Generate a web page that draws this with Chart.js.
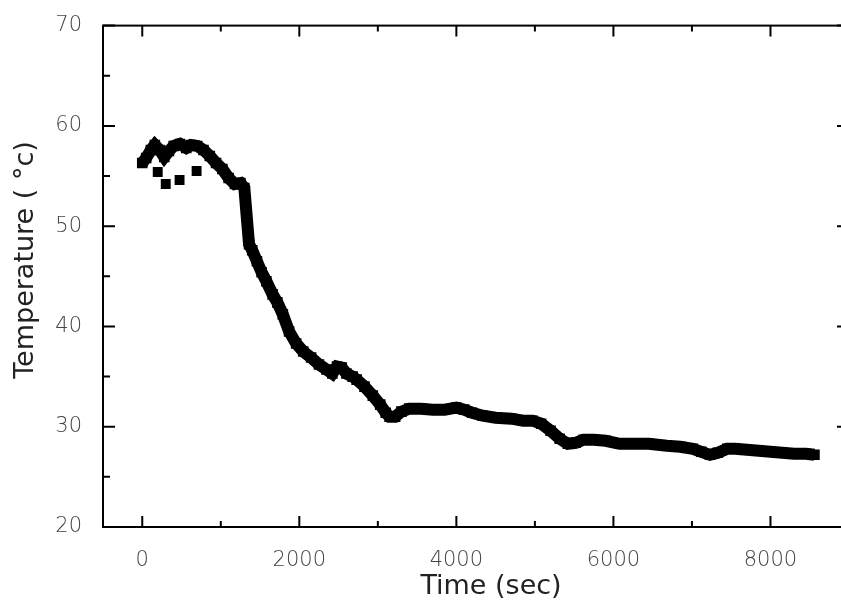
<!DOCTYPE html>
<html>
<head>
<meta charset="utf-8">
<script src="https://cdn.jsdelivr.net/npm/chart.js@4.4.1/dist/chart.umd.min.js"></script>
<style>
  html, body { margin: 0; padding: 0; background: #fff; overflow: hidden; }
  #wrap { width: 841px; height: 602px; overflow: hidden; }
</style>
</head>
<body>
<div id="wrap"><canvas id="chart" width="860" height="602"></canvas></div>
<script>
// cooling run: temperature logged against elapsed time
const timeSec = [0, 50, 110, 160, 220, 280, 340, 400, 480, 560, 620, 700, 780, 860, 940,
  1020, 1100, 1180, 1250, 1300, 1330, 1360, 1400, 1460, 1520, 1580, 1660, 1720, 1790, 1870,
  1960, 2050, 2150, 2250, 2346, 2420, 2480, 2540, 2600, 2680, 2730, 2830, 2936, 3030, 3100,
  3150, 3220, 3300, 3400, 3550, 3700, 3850, 4000, 4100, 4200, 4335, 4500, 4700, 4850, 4971,
  5080, 5200, 5316, 5420, 5520, 5620, 5750, 5900, 6080, 6250, 6450, 6680, 6850, 7012, 7120,
  7230, 7330, 7450, 7550, 7700, 7850, 8000, 8150, 8300, 8450, 8560];
const tempC = [56.3, 56.8, 57.6, 58.1, 57.6, 56.9, 57.5, 58.0, 58.2, 57.8, 58.1, 58.0, 57.6, 57.0, 56.3,
  55.7, 54.8, 54.2, 54.3, 53.8, 51.0, 48.2, 47.6, 46.5, 45.4, 44.5, 43.2, 42.4, 41.2, 39.5,
  38.3, 37.5, 36.9, 36.2, 35.7, 35.3, 36.0, 35.9, 35.3, 35.0, 34.7, 34.0, 33.1, 32.2, 31.4,
  31.0, 31.0, 31.5, 31.8, 31.8, 31.7, 31.7, 31.9, 31.7, 31.4, 31.1, 30.9, 30.8, 30.6, 30.6,
  30.3, 29.6, 28.8, 28.3, 28.4, 28.7, 28.7, 28.6, 28.3, 28.3, 28.3, 28.1, 28.0, 27.8, 27.5,
  27.2, 27.4, 27.8, 27.8, 27.7, 27.6, 27.5, 27.4, 27.3, 27.3, 27.2];

// scattered low readings near the start
const strayTime = [197, 299, 475, 692];
const strayTemp = [55.4, 54.2, 54.6, 55.5];

const xMajor = [0, 2000, 4000, 6000, 8000];
const xMinor = [1000, 3000, 5000, 7000];
const yMajor = [20, 30, 40, 50, 60, 70];
const yMinor = [25, 35, 45, 55, 65];

const xTitle = 'Time (sec)';
const yTitle = 'Temperature ( \u00b0c)';

const labelFont = { family: 'DejaVu Sans', size: 21, weight: '200' };

// frame with inward ticks on all four sides
const framePlugin = {
  id: 'frame',
  afterDatasetsDraw(chart) {
    const { ctx, chartArea: a, scales: { x, y } } = chart;
    ctx.save();
    ctx.strokeStyle = '#000';
    ctx.lineWidth = 2;
    ctx.strokeRect(a.left, a.top, a.right - a.left, a.bottom - a.top);
    const xtick = (vals, len) => {
      vals.forEach(v => {
        const px = x.getPixelForValue(v);
        ctx.beginPath();
        ctx.moveTo(px, a.bottom); ctx.lineTo(px, a.bottom - len);
        ctx.moveTo(px, a.top); ctx.lineTo(px, a.top + len);
        ctx.stroke();
      });
    };
    const ytick = (vals, len) => {
      vals.forEach(v => {
        const py = y.getPixelForValue(v);
        ctx.beginPath();
        ctx.moveTo(a.left, py); ctx.lineTo(a.left + len, py);
        ctx.moveTo(a.right, py); ctx.lineTo(a.right - len, py);
        ctx.stroke();
      });
    };
    xtick(xMajor, 11); xtick(xMinor, 6);
    ytick(yMajor, 12); ytick(yMinor, 7);
    ctx.restore();
  }
};

const titlePlugin = {
  id: 'axisTitles',
  afterDraw(chart) {
    const { ctx } = chart;
    ctx.save();
    ctx.fillStyle = '#222';
    ctx.font = '27px "DejaVu Sans"';
    ctx.textAlign = 'center';
    ctx.textBaseline = 'alphabetic';
    ctx.fillText(xTitle, 491, 594);
    ctx.translate(33, 260);
    ctx.rotate(-Math.PI / 2);
    ctx.fillText(yTitle, 0, 0);
    ctx.restore();
  }
};

new Chart(document.getElementById('chart'), {
  type: 'scatter',
  data: {
    datasets: [{
      data: timeSec.map((t, i) => ({ x: t, y: tempC[i] })),
      showLine: true,
      borderColor: '#000',
      borderWidth: 12,
      backgroundColor: '#000',
      pointStyle: 'rect',
      pointRadius: 7.5,
      pointBorderWidth: 0,
      tension: 0
    }, {
      data: strayTime.map((t, i) => ({ x: t, y: strayTemp[i] })),
      backgroundColor: '#000',
      borderColor: '#000',
      pointStyle: 'rect',
      pointRadius: 7,
      pointBorderWidth: 0
    }]
  },
  options: {
    responsive: false,
    animation: false,
    devicePixelRatio: 1,
    layout: { padding: { top: 16, right: 11, left: 0, bottom: 0 } },
    plugins: { legend: { display: false }, tooltip: { enabled: false } },
    scales: {
      x: {
        type: 'linear',
        min: -500,
        max: 9000,
        grid: { display: false },
        border: { display: false },
        afterFit: s => { s.height = 75; },
        afterBuildTicks: s => { s.ticks = xMajor.map(v => ({ value: v })); },
        ticks: { font: labelFont, color: '#444', padding: 13, maxRotation: 0, callback: v => String(v) }
      },
      y: {
        min: 20,
        max: 70,
        grid: { display: false },
        border: { display: false },
        afterFit: s => { s.width = 103; },
        afterBuildTicks: s => { s.ticks = yMajor.map(v => ({ value: v })); },
        ticks: { font: labelFont, color: '#444', padding: 13, callback: v => String(v) }
      }
    }
  },
  plugins: [framePlugin, titlePlugin]
});
</script>
</body>
</html>
